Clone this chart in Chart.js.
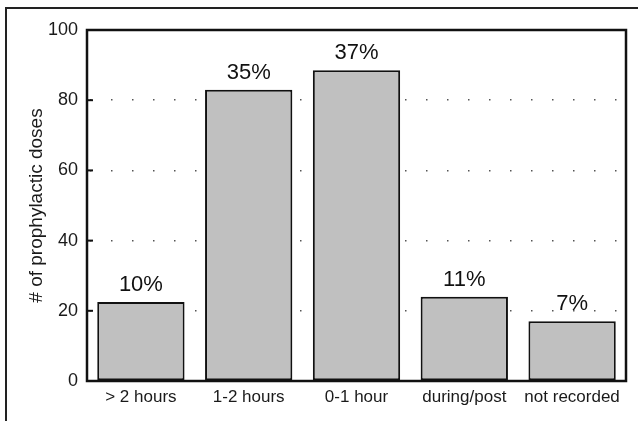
<!DOCTYPE html>
<html>
<head>
<meta charset="utf-8">
<script src="https://cdn.jsdelivr.net/npm/chart.js@4/dist/chart.umd.min.js"></script>
<style>
  html, body { margin: 0; padding: 0; background: #fff; }
  #wrap { position: relative; width: 638px; height: 421px; overflow: hidden; }
  #frame {
    position: absolute; left: 5px; top: 7px; width: 700px; height: 500px;
    border-top: 2px solid #222; border-left: 2px solid #222;
  }
  canvas { position: absolute; left: 0; top: 0; }
</style>
</head>
<body>
<div id="wrap">
  <div id="frame"></div>
  <canvas id="chartCanvas" width="638" height="421"></canvas>
</div>
<script>
const categories = ['> 2 hours', '1-2 hours', '0-1 hour', 'during/post', 'not recorded'];
const doses      = [22.5, 83, 88.5, 24, 17];
const pctLabels  = ['10%', '35%', '37%', '11%', '7%'];
const yMin = 0, yMax = 100, yStep = 20;

const sans = 'Liberation Sans, Arial, sans-serif';

// frame around plot, inner tick marks, percent labels over bars
const decorations = {
  id: 'decorations',
  afterDatasetsDraw(chart) {
    const ctx = chart.ctx;
    const a = chart.chartArea;
    const y = chart.scales.y;
    ctx.save();
    ctx.strokeStyle = '#111';
    ctx.lineWidth = 2.5;
    ctx.strokeRect(a.left, a.top, a.right - a.left, a.bottom - a.top);

    ctx.lineWidth = 2;
    y.ticks.forEach(t => {
      const py = y.getPixelForValue(t.value);
      ctx.beginPath();
      ctx.moveTo(a.left, py);
      ctx.lineTo(a.left + 6, py);
      ctx.stroke();
    });

    ctx.fillStyle = '#111';
    ctx.font = '22px ' + sans;
    ctx.textAlign = 'center';
    ctx.textBaseline = 'bottom';
    chart.getDatasetMeta(0).data.forEach((bar, i) => {
      ctx.fillText(pctLabels[i], bar.x, bar.y - 6);
    });
    ctx.restore();
  }
};

new Chart(document.getElementById('chartCanvas').getContext('2d'), {
  type: 'bar',
  data: {
    labels: categories,
    datasets: [{
      data: doses,
      backgroundColor: '#c0c0c0',
      borderColor: '#111',
      borderWidth: 2,
      borderSkipped: false,
      barPercentage: 0.81,
      categoryPercentage: 1,
    }],
  },
  options: {
    responsive: false,
    animation: false,
    layout: { padding: { top: 30, right: 12, bottom: 0, left: 0 } },
    plugins: {
      legend: { display: false },
      tooltip: { enabled: false },
    },
    scales: {
      y: {
        min: yMin,
        max: yMax,
        afterFit: s => { s.width = 87; },
        border: { display: false, dash: [1.5, 19.5], dashOffset: -3 },
        grid: {
          drawTicks: false,
          lineWidth: 1.5,
          color: c => (c.tick && (c.tick.value === yMin || c.tick.value === yMax)) ? 'rgba(0,0,0,0)' : '#555',
        },
        ticks: {
          stepSize: yStep,
          padding: 9,
          color: '#1a1a1a',
          font: { family: sans, size: 18 },
        },
        title: {
          display: true,
          text: '# of prophylactic doses',
          color: '#1a1a1a',
          font: { family: sans, size: 19 },
          padding: { top: 25, bottom: 0 },
        },
      },
      x: {
        afterFit: s => { s.height = 40; },
        border: { display: false },
        grid: { display: false, drawTicks: false },
        ticks: {
          padding: 6,
          color: '#1a1a1a',
          maxRotation: 0,
          autoSkip: false,
          font: { family: sans, size: 17 },
        },
      },
    },
  },
  plugins: [decorations],
});
</script>
</body>
</html>
